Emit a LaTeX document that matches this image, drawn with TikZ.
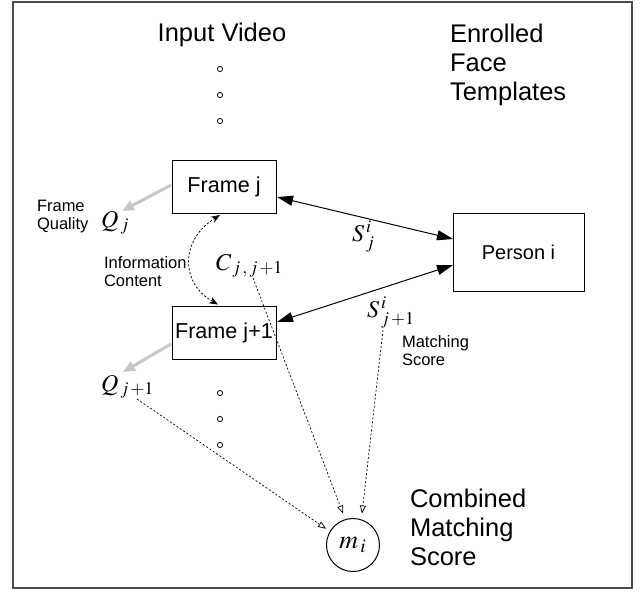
\documentclass[tikz,border=0pt]{standalone}
\usepackage{mathptmx}
\usepackage{fontspec}
\setmainfont{Liberation Sans}
\usetikzlibrary{arrows.meta,calc}
\begin{document}
\begin{tikzpicture}[x=0.5pt,y=-0.5pt,
  every node/.style={inner sep=0pt, outer sep=0pt},
  box/.style={draw, line width=0.5pt, minimum width=52pt, minimum height=26.5pt, font=\fontsize{10.8}{13}\selectfont},
  big/.style={font=\fontsize{12.75}{14.5}\selectfont, align=left},
  small/.style={font=\fontsize{8.25}{8.9}\selectfont, align=left},
  mathlbl/.style={font=\fontsize{12}{14}\selectfont},
  dotc/.style={draw, circle, minimum size=2.6pt, line width=0.4pt},
  grayarrow/.style={draw=black!22, line width=1.5pt, -{Triangle[length=6pt,width=5pt]}},
  score/.style={dash pattern=on 1pt off 1pt, line width=0.35pt, -{Triangle[open,length=4pt,width=3pt]}},
  match/.style={line width=0.5pt, {Triangle[length=8pt,width=5pt]}-{Triangle[length=8pt,width=5pt]}},
  info/.style={dash pattern=on 1pt off 1pt, line width=0.4pt, {Stealth[length=4.5pt,width=3.5pt]}-{Stealth[length=4.5pt,width=3.5pt]}},
]
\useasboundingbox (0,0) rectangle (641,591);
\draw[black!70, line width=0.75pt] (13,2) rectangle (632,588);

% boxes
\node[box] (fj) at (224,186.5) {Frame j};
\node[box] (fj1) at (224,333) {Frame j+1};
\node[box, minimum width=65.5pt, minimum height=39pt, font=\fontsize{10}{12}\selectfont] (pi) at (518.5,252) {Person i};
\node[draw, circle, minimum size=26.5pt, line width=0.5pt, font=\fontsize{13}{15}\selectfont] (mi) at (353,545) {$m_{\,i}$};

% text labels
\node[big] (iv) at (222,35) {Input Video};
\node[big, anchor=north west] (eft) at (450,24) {Enrolled\\Face\\Templates};
\node[big, anchor=north west] (cms) at (410,489) {Combined\\Matching\\Score};
\node[small, anchor=north west] (fq) at (37,200) {Frame\\Quality};
\node[small, anchor=north west] (ic) at (104,257) {Information\\Content};
\node[small, anchor=north west] (ms) at (402,336) {Matching\\Score};

% math labels
\node[mathlbl, anchor=base west] (qj) at (101,227) {$Q_{\,j}$};
\node[mathlbl, anchor=base west] (qj1) at (101,391) {$Q_{\,j\,+1}$};
\node[mathlbl, anchor=base west] (cjj) at (216,270) {$C_{\,j\,,\,j\,+1}$};
\node[mathlbl, anchor=base west] (sj) at (352,241) {$S^{\,i}_{\,j}$};
\node[mathlbl, anchor=base west] (sj1) at (367,317) {$S^{\,i}_{\,j\,+1}$};

% dots
\node[dotc] (d1) at (220,69) {};
\node[dotc] (d2) at (220,95) {};
\node[dotc] (d3) at (220,121) {};
\node[dotc] (d4) at (220,393) {};
\node[dotc] (d5) at (220,419) {};
\node[dotc] (d6) at (220,445) {};

% matching arrows
\draw[match] ($(fj.east)+(1,10.5)$) -- ($(pi.west)+(0,-13)$);
\draw[match] ($(fj1.east)+(1,-11)$) -- ($(pi.west)+(0,13)$);

% frame quality arrows
\draw[grayarrow] ($(fj.west)+(-1,-1.5)$) -- ($(qj.base west)+(21,-16)$);
\draw[grayarrow] ($(fj1.west)+(-1,11)$) -- ($(qj1.base west)+(22,-19)$);

% information content
\draw[info] ($(fj.south)+(-4,2)$) .. controls (180,240) and (180,283) .. ($(fj1.north)+(-6,-2)$);

% combined score
\draw[score] ($(cjj.base west)+(37,8)$) -- ($(mi.north)+(-10,-5)$);
\draw[score] ($(sj1.base west)+(16,13)$) -- ($(mi.north)+(9,-5)$);
\draw[score] ($(qj1.base west)+(36,8)$) -- ($(mi.150)+(-4,-3)$);
\end{tikzpicture}
\end{document}
